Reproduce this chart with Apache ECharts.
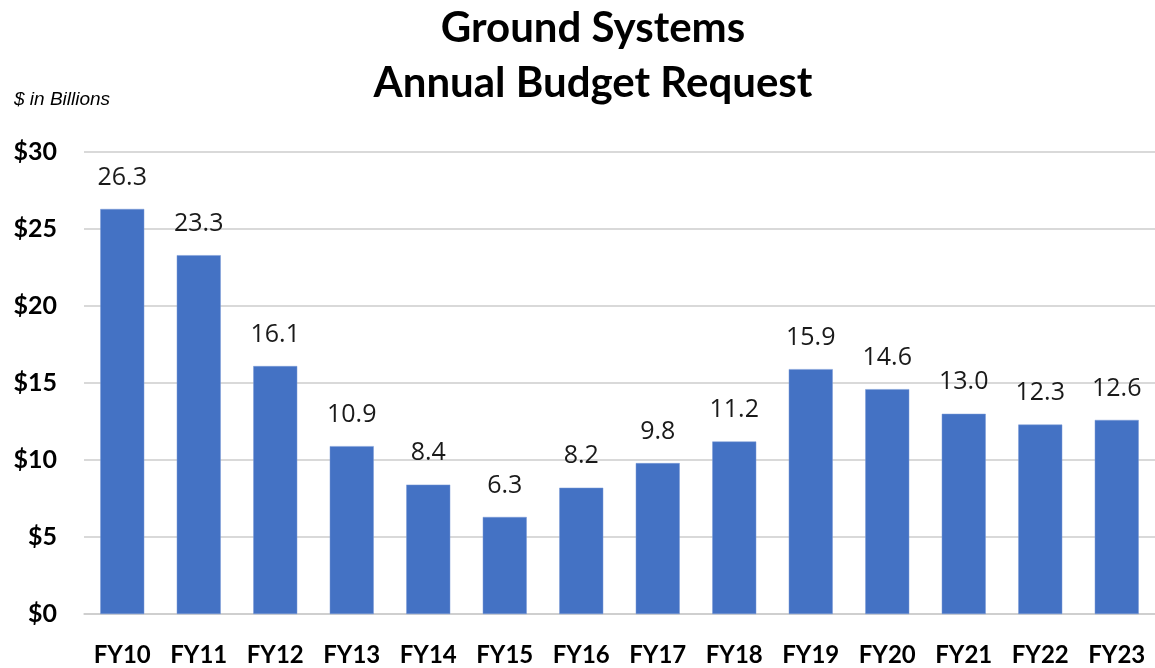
<!DOCTYPE html>
<html>
<head>
<meta charset="utf-8">
<script src="https://cdn.jsdelivr.net/npm/echarts@6/dist/echarts.min.js"></script>
<style>html,body{margin:0;padding:0;background:#fff}#c{width:1155px;height:668px}</style>
</head>
<body>
<div id="c"></div>
<script>
const categories = ['FY10','FY11','FY12','FY13','FY14','FY15','FY16','FY17','FY18','FY19','FY20','FY21','FY22','FY23'];
const budget = [26.3, 23.3, 16.1, 10.9, 8.4, 6.3, 8.2, 9.8, 11.2, 15.9, 14.6, 13.0, 12.3, 12.6];
const yTicks = [0, 5, 10, 15, 20, 25, 30];

const chart = echarts.init(document.getElementById('c'), null, {renderer: 'canvas'});
chart.setOption({
  backgroundColor: '#ffffff',
  animation: false,
  title: [{
    text: 'Ground Systems\nAnnual Budget Request',
    left: 588, top: -4, textAlign: 'center',
    textStyle: {fontFamily: 'Lato', fontWeight: 'bold', fontSize: 42, lineHeight: 55, color: '#000'}
  }, {
    text: '$ in Billions',
    left: 9, top: 85,
    textStyle: {fontFamily: 'Liberation Sans', fontStyle: 'italic', fontWeight: 'normal', fontSize: 19, color: '#000'}
  }],
  grid: {left: 84, top: 152, width: 1073, height: 462, containLabel: false},
  xAxis: {
    type: 'category', data: categories,
    axisLine: {lineStyle: {color: '#cccccc', width: 1.5}},
    axisTick: {show: false},
    axisLabel: {fontFamily: 'Lato', fontWeight: 'bold', fontSize: 24, color: '#000', margin: 29}
  },
  yAxis: {
    type: 'value', min: yTicks[0], max: yTicks[yTicks.length-1], interval: 5,
    axisLine: {show: false}, axisTick: {show: false},
    splitLine: {lineStyle: {color: '#cccccc', width: 1.5}},
    axisLabel: {fontFamily: 'Lato', fontWeight: 'bold', fontSize: 25, color: '#000', margin: 27,
      formatter: v => '$' + v}
  },
  series: [{
    type: 'bar', data: budget, barWidth: 44,
    itemStyle: {color: '#4472C4', borderColor: '#7a9ad6', borderWidth: 0.5},
    label: {show: true, position: 'top', distance: 19, fontFamily: 'Open Sans', fontSize: 25, color: '#1a1a1a',
      formatter: p => p.value.toFixed(1)}
  }]
});
</script>
</body>
</html>
